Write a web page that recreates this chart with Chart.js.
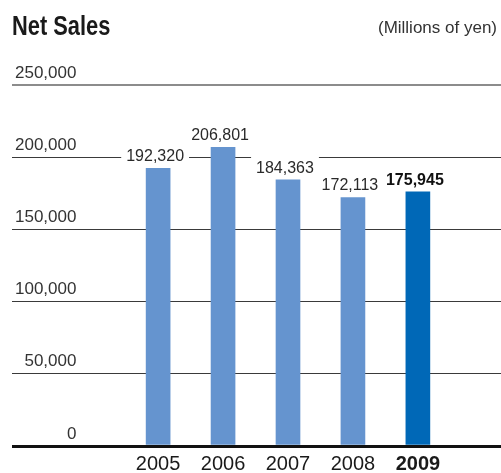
<!DOCTYPE html>
<html lang="en">
<head>
    <meta charset="UTF-8">
    <title>Net Sales</title>
    <script src="https://cdn.jsdelivr.net/npm/chart.js"></script>
    <style>
        body {
            margin: 0;
            padding: 0;
            background: #fff;
        }
        #wrap {
            width: 501px;
            height: 473px;
        }
    </style>
</head>
<body>
    <div id="wrap">
        <canvas id="sales-chart" width="501" height="473"></canvas>
    </div>

    <script>
        // 연도별 매출 (백만엔)
        const years = [2005, 2006, 2007, 2008, 2009];
        const netSales = [192320, 206801, 184363, 172113, 175945];
        const yTicks = [0, 50000, 100000, 150000, 200000, 250000];
        const latestYear = 2009;

        const FONT = "'Liberation Sans', Arial, sans-serif";
        const lightBlue = "#6594cf";
        const darkBlue = "#0068b7";

        const fmt = v => v.toLocaleString("en-US");

        // 제목 + 단위
        const headerPlugin = {
            id: "header",
            afterDraw(chart) {
                const ctx = chart.ctx;
                ctx.save();
                ctx.fillStyle = "#1a1a1a";
                ctx.textBaseline = "alphabetic";
                ctx.textAlign = "left";
                ctx.font = "bold 28px " + FONT;
                // 좁은 볼드체 느낌으로 가로만 줄임
                ctx.save();
                ctx.translate(12, 35);
                ctx.scale(0.78, 1);
                ctx.fillText("Net Sales", 0, 0);
                ctx.restore();
                ctx.fillStyle = "#333";
                ctx.textAlign = "right";
                ctx.font = "17px " + FONT;
                ctx.fillText("(Millions of yen)", 497, 33);
                ctx.restore();
            }
        };

        // 막대 위 값 라벨 (흰 배경으로 격자선 가림)
        const valueLabels = {
            id: "valueLabels",
            afterDatasetsDraw(chart) {
                const ctx = chart.ctx;
                const meta = chart.getDatasetMeta(0);
                ctx.save();
                meta.data.forEach((bar, i) => {
                    const bold = years[i] === latestYear;
                    ctx.font = (bold ? "bold " : "") + "16px " + FONT;
                    const text = fmt(netSales[i]);
                    const w = ctx.measureText(text).width;
                    const x = bar.x - 3;
                    const base = bar.y - 7;
                    ctx.fillStyle = "#fff";
                    ctx.fillRect(x - w / 2 - 5, base - 16, w + 10, 20);
                    ctx.fillStyle = bold ? "#111" : "#2a2a2a";
                    ctx.textAlign = "center";
                    ctx.textBaseline = "alphabetic";
                    ctx.fillText(text, x, base);
                });
                ctx.restore();
            }
        };

        new Chart(document.getElementById("sales-chart"), {
            type: "bar",
            data: {
                datasets: [{
                    data: years.map((y, i) => ({ x: y, y: netSales[i] })),
                    backgroundColor: years.map(y => y === latestYear ? darkBlue : lightBlue),
                    barThickness: 24,
                    borderWidth: 0
                }]
            },
            options: {
                responsive: false,
                animation: false,
                layout: {
                    padding: { top: 85, left: 12, right: 0, bottom: -9 }
                },
                plugins: {
                    legend: { display: false },
                    tooltip: { enabled: false }
                },
                scales: {
                    x: {
                        type: "linear",
                        offset: false,
                        min: 2002.75,
                        max: 2010.28,
                        afterBuildTicks: scale => {
                            scale.ticks = years.map(v => ({ value: v }));
                        },
                        grid: { display: false, drawTicks: false, offset: false },
                        border: { display: false },
                        ticks: {
                            padding: 6,
                            color: "#1a1a1a",
                            callback: v => String(v),
                            font: c => ({
                                family: FONT,
                                size: 20,
                                weight: c.tick && c.tick.value === latestYear ? "bold" : "normal"
                            })
                        }
                    },
                    y: {
                        min: 0,
                        max: 250000,
                        afterBuildTicks: scale => {
                            scale.ticks = yTicks.map(v => ({ value: v }));
                        },
                        // 라벨은 차트 안쪽(격자선 위)에 그리므로 축 폭은 0
                        afterFit: scale => {
                            scale.width = 0;
                        },
                        border: { display: false },
                        grid: {
                            drawTicks: false,
                            color: c => {
                                const v = c.tick.value;
                                if (v === 0) return "#111";
                                if (v === 250000) return "#8c8c8c";
                                return "#3a3a3a";
                            },
                            lineWidth: c => {
                                const v = c.tick.value;
                                if (v === 0) return 3;
                                if (v === 250000) return 2;
                                return 1;
                            }
                        },
                        ticks: {
                            mirror: true,
                            crossAlign: "far",
                            padding: 3,
                            labelOffset: -12,
                            color: "#333",
                            font: { family: FONT, size: 17 },
                            callback: v => fmt(v)
                        }
                    }
                }
            },
            plugins: [headerPlugin, valueLabels]
        });
    </script>
</body>
</html>
